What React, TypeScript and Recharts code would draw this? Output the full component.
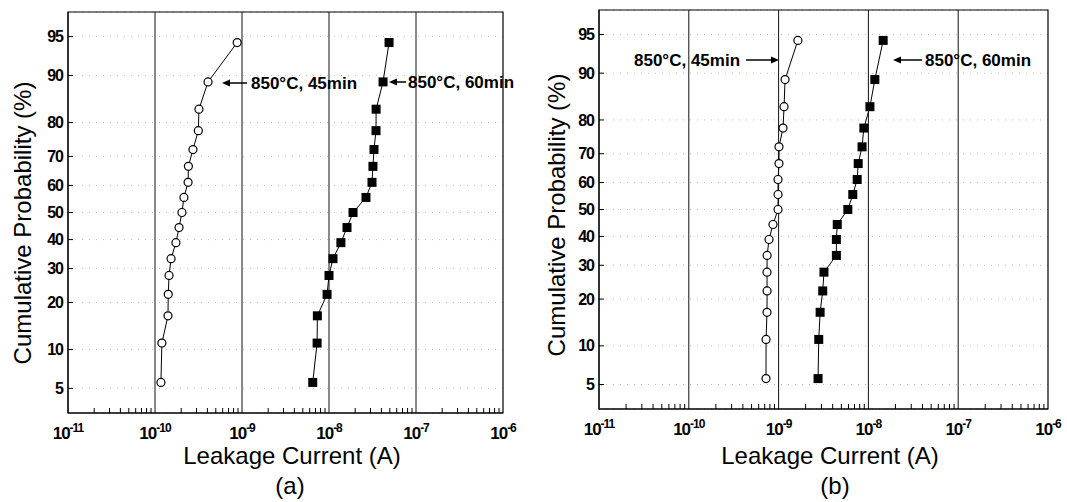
import React from "react"
import {
  ScatterChart,
  Scatter,
  XAxis,
  YAxis,
  CartesianGrid,
  ReferenceLine,
  ReferenceArea,
} from "recharts"

// cumulative probability (%) of each sorted device, shared by all four series
const PROBABILITY = [5.6, 11.1, 16.7, 22.2, 27.8, 33.3, 38.9, 44.4, 50.0, 55.6, 61.1, 66.7, 72.2, 77.8, 83.3, 88.9, 94.4]

// leakage current (A), panel (a)
const A_45MIN = [1.17e-10, 1.2e-10, 1.41e-10, 1.42e-10, 1.45e-10, 1.53e-10, 1.74e-10, 1.89e-10, 2.04e-10, 2.15e-10, 2.4e-10, 2.42e-10, 2.73e-10, 3.15e-10, 3.2e-10, 4.07e-10, 8.8e-10]
const A_60MIN = [6.5e-9, 7.3e-9, 7.35e-9, 9.5e-9, 1.0e-8, 1.11e-8, 1.37e-8, 1.61e-8, 1.89e-8, 2.66e-8, 3.12e-8, 3.2e-8, 3.29e-8, 3.47e-8, 3.48e-8, 4.18e-8, 4.9e-8]

// leakage current (A), panel (b)
const B_45MIN = [7.24e-10, 7.25e-10, 7.43e-10, 7.44e-10, 7.43e-10, 7.45e-10, 7.82e-10, 8.66e-10, 9.85e-10, 9.86e-10, 9.85e-10, 1.01e-9, 1.01e-9, 1.12e-9, 1.15e-9, 1.18e-9, 1.64e-9]
const B_60MIN = [2.75e-9, 2.8e-9, 2.9e-9, 3.1e-9, 3.2e-9, 4.4e-9, 4.4e-9, 4.5e-9, 5.9e-9, 6.7e-9, 7.5e-9, 7.7e-9, 8.5e-9, 8.9e-9, 1.04e-8, 1.18e-8, 1.46e-8]

const Y_TICKS = [5, 10, 20, 30, 40, 50, 60, 70, 80, 90, 95]
const X_DECADES = [1e-11, 1e-10, 1e-9, 1e-8, 1e-7, 1e-6]

const FONT = "'Liberation Sans', Arial, sans-serif"
const Z_MAX = 1.875

// inverse normal CDF (Acklam, central region), used for the probability-paper y scale
function probit(p: number) {
  const a = [-39.69683028665376, 220.9460984245205, -275.9285104469687, 138.357751867269, -30.66479806614716, 2.506628277459239]
  const b = [-54.47609879822406, 161.5858368580409, -155.6989798598866, 66.80131188771972, -13.28068155288572]
  const q = p - 0.5
  const r = q * q
  return ((((((a[0] * r + a[1]) * r + a[2]) * r + a[3]) * r + a[4]) * r + a[5]) * q) /
    (((((b[0] * r + b[1]) * r + b[2]) * r + b[3]) * r + b[4]) * r + 1)
}

const Y_TICK_Z = Y_TICKS.map((p) => probit(p / 100))

const X_TICKS: number[] = []
X_DECADES.forEach((d, i) => {
  X_TICKS.push(d)
  if (i < X_DECADES.length - 1) for (let k = 2; k <= 9; k++) X_TICKS.push(d * k)
})

const toPoints = (current: number[]) => PROBABILITY.map((p, i) => ({ x: current[i], z: probit(p / 100) }))

function XTick(props: any) {
  const { x, y, payload } = props
  const v = payload.value
  const exp = Math.round(Math.log10(v))
  const isDecade = Math.abs(v - Math.pow(10, exp)) / v < 1e-6
  if (!isDecade) {
    return <line x1={x} y1={y} x2={x} y2={y - 5} stroke="#000" strokeWidth={1} />
  }
  return (
    <text x={x} y={y + 26} textAnchor="middle" fontFamily={FONT} fontWeight="bold" fontSize={17} letterSpacing={-1} fill="#000">
      10
      <tspan dy={-7} fontSize={12}>{exp}</tspan>
    </text>
  )
}

function YTick(props: any) {
  const { x, y, payload } = props
  const idx = Y_TICK_Z.findIndex((z) => Math.abs(z - payload.value) < 1e-6)
  return (
    <g>
      <line x1={x} y1={y} x2={x + 5} y2={y} stroke="#000" strokeWidth={1} />
      <text x={x - 5} y={y} dy="0.35em" textAnchor="end" fontFamily={FONT} fontWeight="bold" fontSize={16} letterSpacing={-1} fill="#000">
        {idx >= 0 ? Y_TICKS[idx] : ""}
      </text>
    </g>
  )
}

const OpenCircle = (props: any) => (
  <circle cx={props.cx} cy={props.cy} r={4} fill="#fff" stroke="#000" strokeWidth={1.2} />
)
const FilledSquare = (props: any) => (
  <rect x={props.cx - 4.5} y={props.cy - 4.5} width={9} height={9} fill="#000" />
)

function Panel({ left, width, margin, s45, s60 }: { left: number; width: number; margin: any; s45: number[]; s60: number[] }) {
  return (
    <div style={{ position: "absolute", left, top: 0 }}>
      <ScatterChart width={width} height={502} margin={margin}>
        <CartesianGrid vertical={false} stroke="#bbb" strokeDasharray="1 6" />
        <XAxis
          dataKey="x"
          type="number"
          scale="log"
          domain={[1e-11, 1e-6]}
          ticks={X_TICKS}
          interval={0}
          tick={XTick}
          tickLine={false}
          tickSize={0}
          tickMargin={0}
          axisLine={{ stroke: "#000" }}
          height={40}
          allowDataOverflow
        />
        <YAxis
          dataKey="z"
          type="number"
          domain={[-Z_MAX, Z_MAX]}
          ticks={Y_TICK_Z}
          interval={0}
          tick={YTick}
          tickLine={false}
          tickSize={0}
          tickMargin={0}
          axisLine={{ stroke: "#000" }}
          width={50}
          allowDataOverflow
        />
        {X_DECADES.slice(1, -1).map((d) => (
          <ReferenceLine key={d} x={d} stroke="#111" strokeWidth={1} />
        ))}
        <ReferenceArea x1={1e-11} x2={1e-6} y1={-Z_MAX} y2={Z_MAX} fill="none" stroke="#000" strokeWidth={1.2} fillOpacity={0} />
        <Scatter data={toPoints(s45)} line={{ stroke: "#000", strokeWidth: 1 }} lineType="joint" shape={OpenCircle} isAnimationActive={false} />
        <Scatter data={toPoints(s60)} line={{ stroke: "#000", strokeWidth: 1 }} lineType="joint" shape={FilledSquare} isAnimationActive={false} />
      </ScatterChart>
    </div>
  )
}

function Arrow({ x1, x2, y }: { x1: number; x2: number; y: number }) {
  // x1 = tail, x2 = head
  const dir = x2 > x1 ? 1 : -1
  return (
    <g>
      <line x1={x1} y1={y} x2={x2 - dir * 6} y2={y} stroke="#000" strokeWidth={1.5} />
      <path d={`M${x2},${y} L${x2 - dir * 8},${y - 3.5} L${x2 - dir * 8},${y + 3.5} Z`} fill="#000" />
    </g>
  )
}

export default function App() {
  const note = { fontFamily: FONT, fontWeight: "bold" as const, fontSize: 17, fill: "#000" }
  const title = { fontFamily: FONT, fontSize: 24, fill: "#000" }
  return (
    <div style={{ position: "fixed", left: 0, top: 0, width: 1067, height: 502, background: "#fff", overflow: "hidden" }}>
      <Panel left={0} width={530} margin={{ top: 12, right: 27, left: 18, bottom: 49 }} s45={A_45MIN} s60={A_60MIN} />
      <Panel left={530} width={537} margin={{ top: 10, right: 19, left: 19, bottom: 53 }} s45={B_45MIN} s60={B_60MIN} />
      <svg width={1067} height={502} style={{ position: "absolute", left: 0, top: 0, pointerEvents: "none" }}>
        {/* panel (a) */}
        <text x={31} y={223} transform="rotate(-90 31 223)" textAnchor="middle" {...title}>Cumulative Probability (%)</text>
        <text x={292} y={464} textAnchor="middle" {...title}>Leakage Current (A)</text>
        <text x={290} y={494} textAnchor="middle" {...title}>(a)</text>
        <Arrow x1={247} x2={222} y={83} />
        <text x={251} y={89} {...note}>850°C, 45min</text>
        <Arrow x1={406} x2={389} y={82} />
        <text x={408} y={88} {...note}>850°C, 60min</text>

        {/* panel (b) */}
        <text x={565} y={215} transform="rotate(-90 565 215)" textAnchor="middle" {...title}>Cumulative Probability (%)</text>
        <text x={830} y={464} textAnchor="middle" {...title}>Leakage Current (A)</text>
        <text x={835} y={494} textAnchor="middle" {...title}>(b)</text>
        <text x={634} y={66} {...note}>850°C, 45min</text>
        <Arrow x1={746} x2={779} y={60} />
        <Arrow x1={922} x2={893} y={60} />
        <text x={925} y={66} {...note}>850°C, 60min</text>
      </svg>
    </div>
  )
}
